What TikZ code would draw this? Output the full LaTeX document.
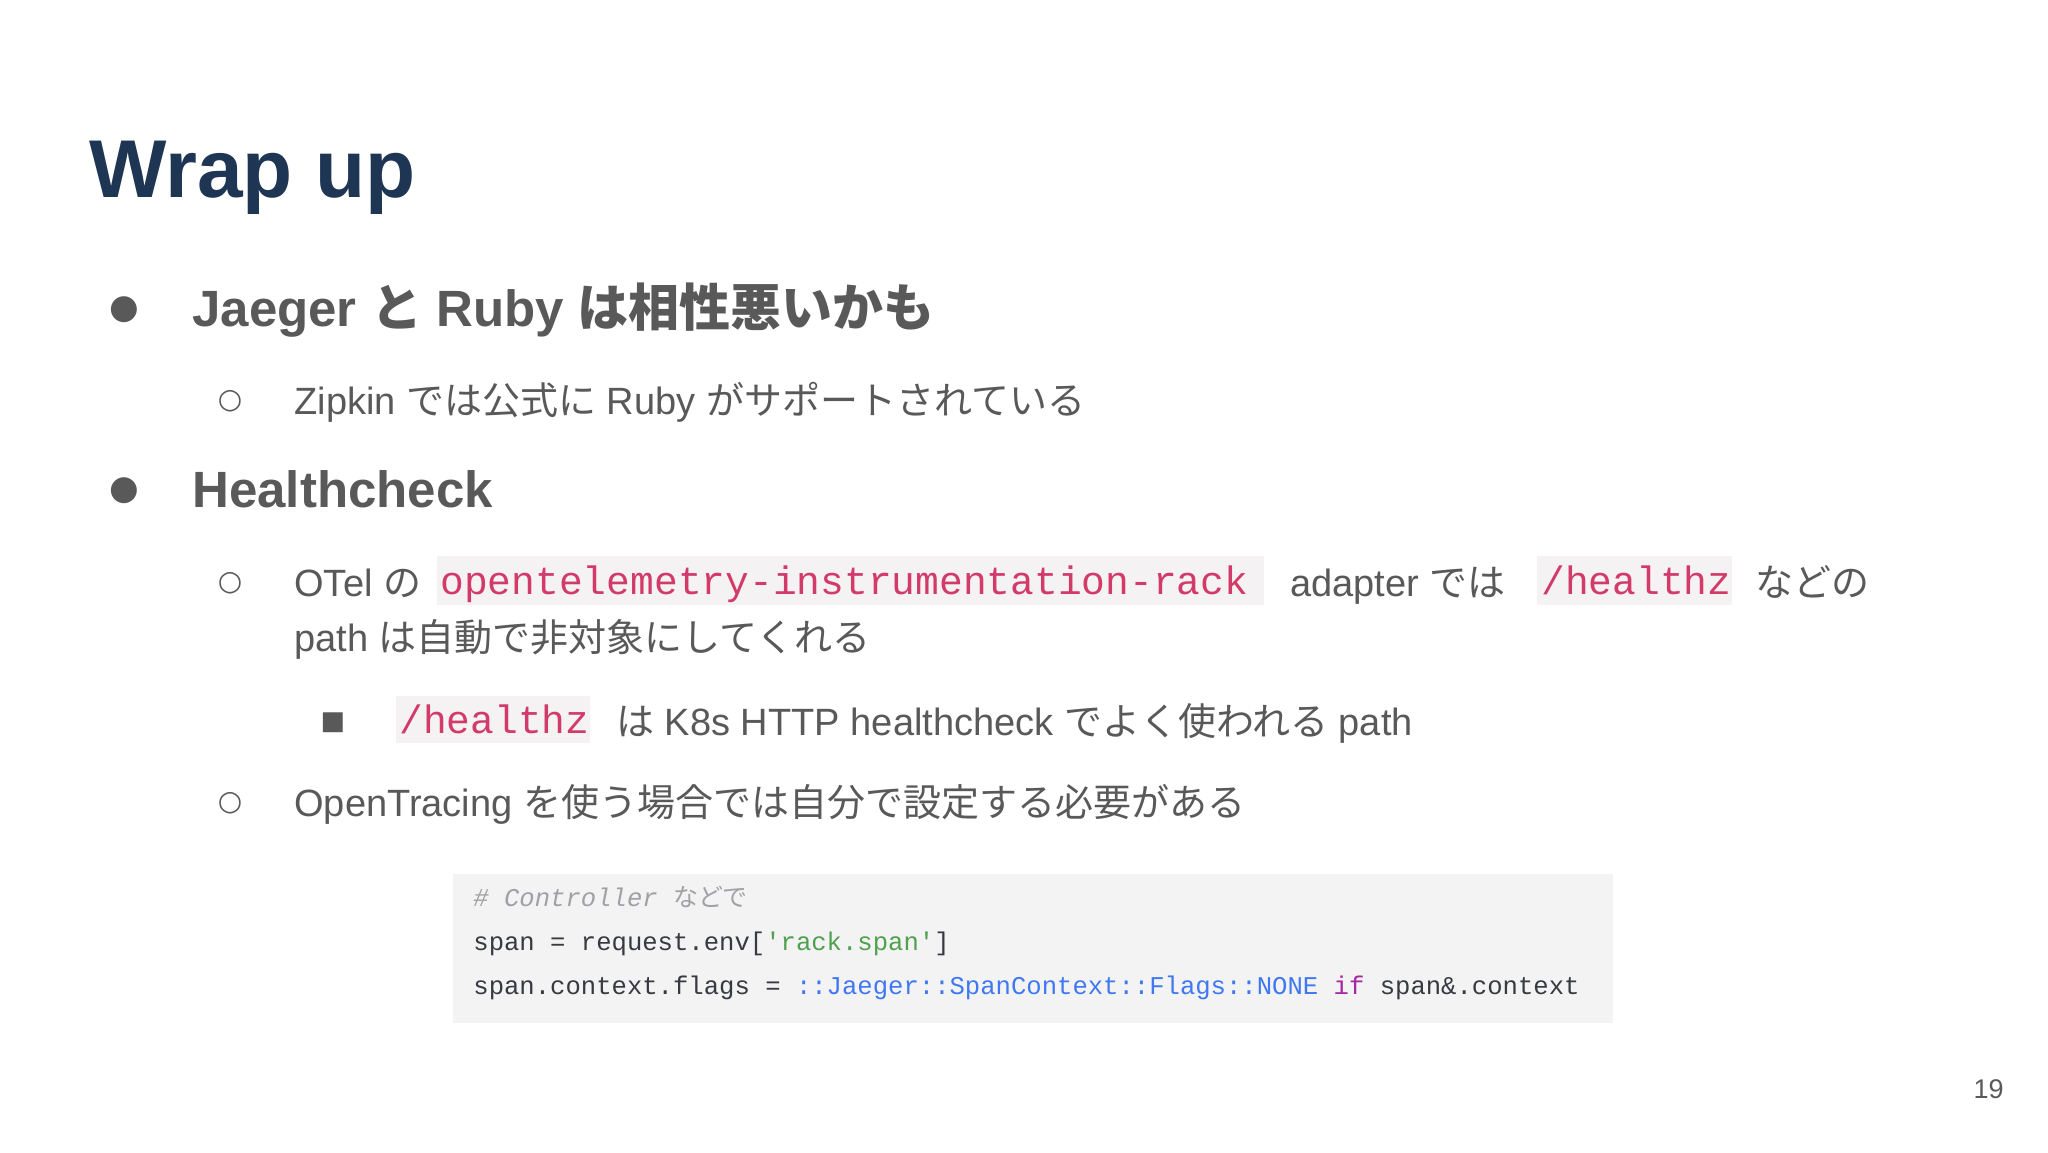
\documentclass[tikz,border=0pt]{standalone}
\usepackage{fontspec}
\setmainfont{Liberation Sans}
\setmonofont{Liberation Mono}
\newfontfamily\jp{Noto Sans CJK JP}
\newfontfamily\dv{DejaVu Sans}
\newcommand{\J}[1]{{\jp #1}}
\definecolor{titlec}{HTML}{1F3554}
\definecolor{bodyc}{HTML}{595959}
\definecolor{codepink}{HTML}{D23A6A}
\definecolor{codebg}{HTML}{F5F2F3}
\definecolor{blockbg}{HTML}{F3F3F3}
\definecolor{cmt}{HTML}{A0A1A7}
\definecolor{strc}{HTML}{50A14F}
\definecolor{kwb}{HTML}{4078F2}
\definecolor{kwp}{HTML}{A626A4}
\definecolor{codec}{HTML}{383A42}
\begin{document}
\begin{tikzpicture}[x=0.5pt,y=-0.5pt,
  txt/.style={anchor=base west,inner sep=0pt,text=bodyc,font=\fontsize{19}{23}\selectfont},
  head/.style={anchor=base west,inner sep=0pt,text=bodyc,font=\fontsize{25.5}{30}\selectfont\bfseries},
  icode/.style={anchor=base west,inner sep=0pt,text=codepink,font=\fontsize{19.8}{23}\ttfamily},
  ccode/.style={anchor=base west,inner sep=0pt,text=codec,font=\fontsize{12.8}{15}\ttfamily},
  bulletmark/.style={anchor=center,inner sep=0pt,text=bodyc}]
\useasboundingbox (0,0) rectangle (2048,1152);
\fill[white] (0,0) rectangle (2048,1152);
\node[anchor=base west,inner sep=0pt,text=titlec,font=\fontsize{41}{46}\selectfont\bfseries] (title) at (89,197) {Wrap up};
% bullet 1
\node[bulletmark,font=\dv\fontsize{17}{17}\selectfont] (b1) at (124,310) {●};
\node[head] (h1) at (192,326) {Jaeger \J{と} Ruby \J{は相性悪いかも}};
\node[bulletmark,font=\dv\fontsize{14}{14}\selectfont] (c1) at (230,401) {○};
\node[txt] (t1) at (294,414) {Zipkin \J{では公式に} Ruby \J{がサポートされている}};
% bullet 2
\node[bulletmark,font=\dv\fontsize{17}{17}\selectfont] (b2) at (124,491) {●};
\node[head] (h2) at (192,507) {Healthcheck};
\node[bulletmark,font=\dv\fontsize{14}{14}\selectfont] (c2) at (230,583) {○};
\node[txt] (t2a) at (294,596) {OTel \J{の}};
\fill[codebg] (437,556) rectangle (1264,605);
\node[icode] (ic1) at (440,594) {opentelemetry-instrumentation-rack};
\node[txt] (t2b) at (1290,596) {adapter \J{では}};
\fill[codebg] (1537,556) rectangle (1732,605);
\node[icode] (ic2) at (1541,594) {/healthz};
\node[txt] (t2c) at (1755,596) {\J{などの}};
\node[txt] (t2d) at (294,651) {path \J{は自動で非対象にしてくれる}};
\node[bulletmark,font=\dv\fontsize{13}{13}\selectfont] (s1) at (333,723) {■};
\fill[codebg] (396,696) rectangle (590,743);
\node[icode] (ic3) at (399,733) {/healthz};
\node[txt] (t3) at (616,735) {\J{は} K8s HTTP healthcheck \J{でよく使われる} path};
\node[bulletmark,font=\dv\fontsize{14}{14}\selectfont] (c3) at (230,803) {○};
\node[txt] (t4) at (294,816) {OpenTracing \J{を使う場合では自分で設定する必要がある}};
% code block
\fill[blockbg] (453,874) rectangle (1613,1023);
\node[ccode,text=cmt] (k1) at (473,906) {\itshape \# Controller {\jp\upshape\fontsize{12.5}{15}\selectfont などで}};
\node[ccode] (k2) at (473,950) {span = request.env[\textcolor{strc}{'rack.span'}]};
\node[ccode] (k3) at (473,994) {span.context.flags = \textcolor{kwb}{::Jaeger::SpanContext::Flags::NONE} \textcolor{kwp}{if} span\&.context};
\node[anchor=base east,inner sep=0pt,text=bodyc,font=\fontsize{13.5}{16}\selectfont] (pg) at (2004,1098) {19};
\end{tikzpicture}
\end{document}
